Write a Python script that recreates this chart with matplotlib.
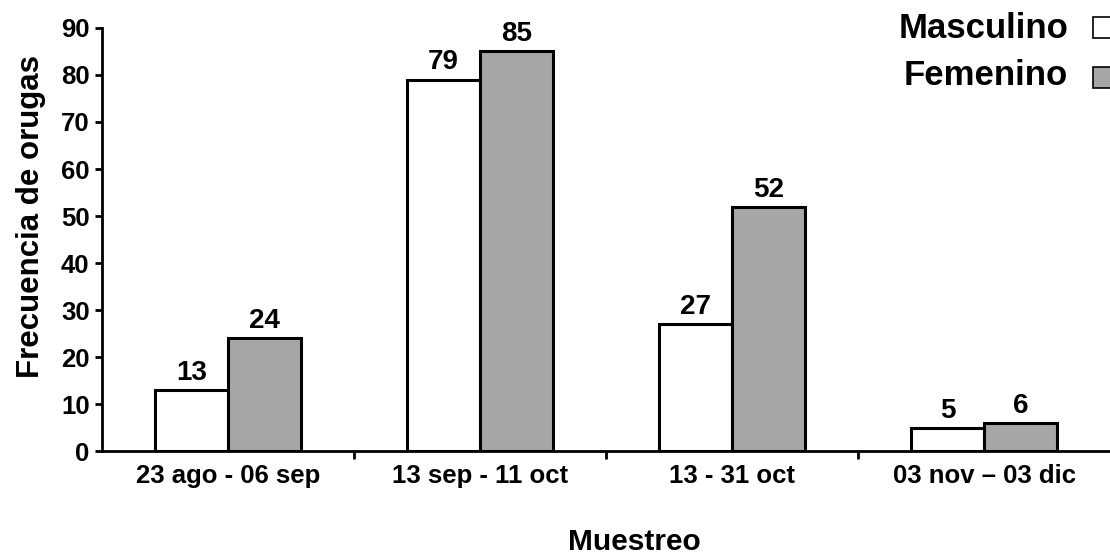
import numpy as np
import matplotlib.pyplot as plt
from matplotlib.ticker import FixedLocator
from matplotlib.patches import Rectangle

plt.rcParams['font.family'] = ['Liberation Sans', 'DejaVu Sans']
plt.rcParams['font.weight'] = 'bold'

# Data
periodos = ['23 ago - 06 sep', '13 sep - 11 oct', '13 - 31 oct', '03 nov \u2013 03 dic']
masculino = [13, 79, 27, 5]
femenino = [24, 85, 52, 6]
series = ['Masculino', 'Femenino']
colores = ['white', '#a6a6a6']

x = np.arange(len(periodos))
w = 0.29

fig = plt.figure(figsize=(11.1, 5.56), dpi=100)
ax = fig.add_axes([0.092, 0.188, 0.908, 0.762])

b1 = ax.bar(x - w / 2, masculino, w, color=colores[0], edgecolor='black', linewidth=2.2)
b2 = ax.bar(x + w / 2, femenino, w, color=colores[1], edgecolor='black', linewidth=2.2)

for bars, vals in ((b1, masculino), (b2, femenino)):
    for r, v in zip(bars, vals):
        ax.annotate(str(v), (r.get_x() + r.get_width() / 2, v), xytext=(0, 3),
                    textcoords='offset points', ha='center', va='bottom',
                    fontsize=20, fontweight='bold')

ax.set_xlim(-0.5, 3.5)
ax.set_ylim(0, 90)
ax.set_yticks(range(0, 91, 10))
ax.set_xticks(x)
ax.set_xticklabels(periodos)
ax.xaxis.set_minor_locator(FixedLocator([0.5, 1.5, 2.5]))
ax.tick_params(axis='x', which='major', length=0, pad=9, labelsize=18.5)
ax.tick_params(axis='x', which='minor', length=6, width=2, direction='out')
ax.tick_params(axis='y', length=5, width=2, labelsize=18.5, pad=4)

for s in ('top', 'right'):
    ax.spines[s].set_visible(False)
for s in ('left', 'bottom'):
    ax.spines[s].set_linewidth(2)

ax.set_ylabel('Frecuencia de orugas', fontsize=22.5, fontweight='bold')
ax.yaxis.set_label_coords(-0.056, 0.555)
ax.set_xlabel('Muestreo', fontsize=21.5, fontweight='bold')
ax.xaxis.set_label_coords(0.528, -0.181)

# legend: label text, then a small square (cut by the right edge)
text_y = [0.9310, 0.8480]
box_y = [0.9317, 0.8417]
for nombre, col, ty, by in zip(series, colores, text_y, box_y):
    fig.text(0.9622, ty, nombre, ha='right', va='baseline', fontsize=25, fontweight='bold')
    fig.patches.append(Rectangle((0.9847, by), 0.0189, 0.0378, transform=fig.transFigure,
                                 facecolor=col, edgecolor='black', linewidth=1.2))

fig.savefig('out.png', dpi=100)
